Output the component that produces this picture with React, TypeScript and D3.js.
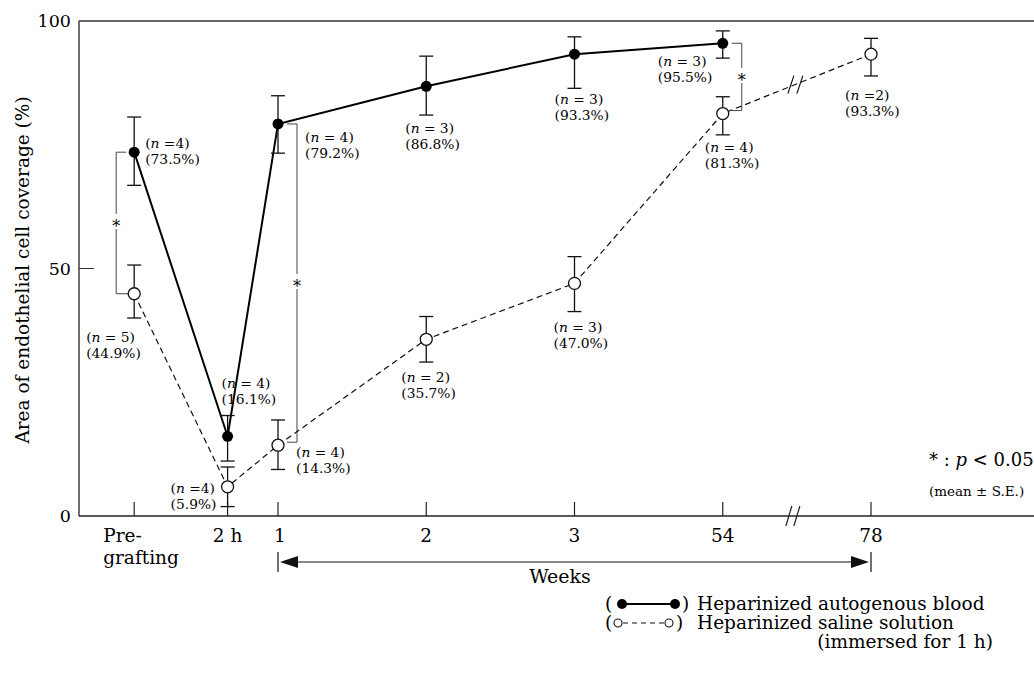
import React from "react";
import * as d3 from "d3";

// ---------- data ----------
const categories = ["Pre-grafting", "2 h", "1", "2", "3", "54", "78"];
const tickLabels = ["Pre-|grafting", "2 h", "1", "2", "3", "54", "78"];
// position slot along the (broken) time axis; weeks 1..78 are evenly spaced slots 0..4
const xSlot = [-0.97, -0.34, 0, 1, 2, 3, 4];

const bloodMean = [73.5, 16.1, 79.2, 86.8, 93.3, 95.5];
const bloodUpper = [80.6, 20.3, 84.9, 92.9, 96.8, 98.0];
const bloodLower = [66.8, 11.1, 73.3, 81.0, 86.4, 92.5];
const bloodN = [4, 4, 4, 3, 3, 3];
const bloodTight = [true, false, false, false, false, false];

const salineMean = [44.9, 5.9, 14.3, 35.7, 47.0, 81.3, 93.3];
const salineUpper = [50.7, 9.9, 19.4, 40.3, 52.4, 84.7, 96.5];
const salineLower = [40.0, 1.9, 9.4, 31.1, 41.3, 77.0, 88.9];
const salineN = [5, 4, 4, 2, 3, 4, 2];
const salineTight = [false, true, false, false, false, false, true];

const yTicks = [0, 50, 100];
// significance comparisons (category index)
const sigIdx = [0, 2, 5];

// ---------- layout (styles / offsets) ----------
const W = 1034, H = 685;
const FONT = "'DejaVu Serif', 'Liberation Serif', serif";
const bloodLabelOff = [[11, -4], [-6, -48], [27, 18], [-21, 47], [-20, 50], [-65, 23]];
const salineLabelOff = [[-48, 48], [-57, 6], [18, 12], [-25, 43], [-21, 49], [-18, 38], [-26, 46]];
const sigOff = [-18, 19, 19];

const x = d3.scaleLinear().domain([0, 4]).range([278, 871]);
const y = d3.scaleLinear().domain([0, 100]).range([516, 21]);
const X0 = 79;

function PointLabel({ px, py, n, mean, tight, off }: any) {
  const tx = px + off[0];
  const ty = py + off[1];
  return (
    <text x={tx} y={ty} fontSize={13.8} fontFamily={FONT}>
      <tspan>(</tspan>
      <tspan fontStyle="italic">n</tspan>
      <tspan>{tight ? " =" + n + ")" : " = " + n + ")"}</tspan>
      <tspan x={tx} dy={16}>{"(" + mean.toFixed(1) + "%)"}</tspan>
    </text>
  );
}

function ErrorBar({ px, hi, lo }: any) {
  const c = 7;
  return (
    <g stroke="#111" strokeWidth={1.3}>
      <line x1={px} x2={px} y1={y(hi)} y2={y(lo)} />
      <line x1={px - c} x2={px + c} y1={y(hi)} y2={y(hi)} />
      <line x1={px - c} x2={px + c} y1={y(lo)} y2={y(lo)} />
    </g>
  );
}

export default function App() {
  const bloodPts = bloodMean.map((v, i) => [x(xSlot[i]), y(v)] as [number, number]);
  const salinePts = salineMean.map((v, i) => [x(xSlot[i]), y(v)] as [number, number]);
  const line = d3.line();

  // break on the saline line between 54 and 78
  const bx = (salinePts[5][0] + salinePts[6][0]) / 2 - 2;
  const bt = (bx - salinePts[5][0]) / (salinePts[6][0] - salinePts[5][0]);
  const by = salinePts[5][1] + bt * (salinePts[6][1] - salinePts[5][1]);
  // break on axis
  const axBx = bx - 2;

  const arrowY = 562;
  const ax1 = x(0), ax2 = x(4);

  return (
    <svg width={W} height={H} style={{ position: "absolute", left: 0, top: 0, background: "#fff" }}>
      <rect width={W} height={H} fill="#fff" />
      {/* frame: left axis, top line, bottom axis */}
      <line x1={X0} x2={X0} y1={y(100)} y2={y(0)} stroke="#222" strokeWidth={1.3} />
      <line x1={X0} x2={W} y1={y(100)} y2={y(100)} stroke="#333" strokeWidth={1.6} />
      <line x1={X0} x2={W} y1={y(0)} y2={y(0)} stroke="#222" strokeWidth={1.6} />
      {/* y ticks */}
      {yTicks.map((t) => (
        <g key={t}>
          {t === 50 && <line x1={X0} x2={X0 + 15} y1={y(t)} y2={y(t)} stroke="#333" strokeWidth={1} />}
          <text x={71} y={y(t) + 6} textAnchor="end" fontSize={17.5} fontFamily={FONT}>{t}</text>
        </g>
      ))}
      {/* x ticks */}
      {categories.map((c, i) => (
        <line key={c} x1={x(xSlot[i])} x2={x(xSlot[i])} y1={y(0)} y2={y(0) - 14} stroke="#222" strokeWidth={1.2} />
      ))}
      {tickLabels.map((lab, i) => {
        const px = x(xSlot[i]);
        if (lab.includes("|")) {
          const [a, b] = lab.split("|");
          return (
            <text key={lab} x={px - 31} y={542} fontSize={18.5} fontFamily={FONT}>
              <tspan>{a}</tspan>
              <tspan x={px - 31} dy={22}>{b}</tspan>
            </text>
          );
        }
        return (
          <text key={lab} x={px + (i === 2 ? 2 : 0)} y={542} textAnchor="middle" fontSize={18.5} fontFamily={FONT}>{lab}</text>
        );
      })}
      {/* axis break */}
      <g stroke="#222" strokeWidth={1.2}>
        <line x1={axBx - 7} x2={axBx - 1} y1={y(0) + 10} y2={y(0) - 10} />
        <line x1={axBx + 1} x2={axBx + 7} y1={y(0) + 10} y2={y(0) - 10} />
      </g>

      {/* y label */}
      <text transform={`translate(29,${270}) rotate(-90)`} textAnchor="middle" fontSize={18.5} fontFamily={FONT}>
        Area of endothelial cell coverage (%)
      </text>

      {/* weeks arrow */}
      <g stroke="#111" strokeWidth={1.2}>
        <line x1={ax1} x2={ax1} y1={arrowY - 10} y2={arrowY + 10} />
        <line x1={ax2} x2={ax2} y1={arrowY - 10} y2={arrowY + 10} />
        <line x1={ax1 + 10} x2={ax2 - 10} y1={arrowY} y2={arrowY} />
      </g>
      <path d={`M${ax1 + 2},${arrowY} L${ax1 + 20},${arrowY - 6} L${ax1 + 20},${arrowY + 6} Z`} fill="#111" />
      <path d={`M${ax2 - 2},${arrowY} L${ax2 - 20},${arrowY - 6} L${ax2 - 20},${arrowY + 6} Z`} fill="#111" />
      <text x={560} y={583} textAnchor="middle" fontSize={19} fontFamily={FONT}>Weeks</text>

      {/* significance brackets */}
      {sigIdx.map((ci, k) => {
        const px = x(xSlot[ci]);
        const bxk = px + sigOff[k];
        const y1 = y(bloodMean[ci]);
        const y2 = y(salineMean[ci]) - (k === 0 ? 0 : 3);
        const inner = k === 0 ? px - 8 : px + 9;
        const ym = (y1 + y2) / 2;
        return (
          <g key={ci}>
            <g stroke="#444" strokeWidth={1}>
              <line x1={inner} x2={bxk} y1={y1} y2={y1} />
              <line x1={inner + (k === 0 ? 2 : 0)} x2={bxk} y1={y2} y2={y2} />
              <line x1={bxk} x2={bxk} y1={y1} y2={ym - 9} />
              <line x1={bxk} x2={bxk} y1={ym + 6} y2={y2} />
            </g>
            <text x={bxk} y={ym + 9} textAnchor="middle" fontSize={16} fontFamily={FONT}>*</text>
          </g>
        );
      })}

      {/* saline (dashed) */}
      <path d={line(salinePts) || ""} fill="none" stroke="#111" strokeWidth={1.2} strokeDasharray="6 4" />
      <g stroke="#111" strokeWidth={1.2}>
        <line x1={bx - 7} x2={bx - 1} y1={by + 9} y2={by - 9} />
        <line x1={bx + 2} x2={bx + 8} y1={by + 9} y2={by - 9} />
      </g>
      {/* blood (solid) */}
      <path d={line(bloodPts) || ""} fill="none" stroke="#000" strokeWidth={2} />

      {/* error bars */}
      {salineMean.map((v, i) => (
        <ErrorBar key={"se" + i} px={salinePts[i][0]} hi={salineUpper[i]} lo={salineLower[i]} />
      ))}
      {bloodMean.map((v, i) => (
        <ErrorBar key={"be" + i} px={bloodPts[i][0]} hi={bloodUpper[i]} lo={bloodLower[i]} />
      ))}

      {/* markers */}
      {salinePts.map((p, i) => (
        <circle key={"sc" + i} cx={p[0]} cy={p[1]} r={6} fill="#fff" stroke="#111" strokeWidth={1.3} />
      ))}
      {bloodPts.map((p, i) => (
        <circle key={"bc" + i} cx={p[0]} cy={p[1]} r={5.5} fill="#000" />
      ))}

      {/* point labels */}
      {bloodPts.map((p, i) => (
        <PointLabel key={"bl" + i} px={p[0]} py={p[1]} n={bloodN[i]} mean={bloodMean[i]} tight={bloodTight[i]} off={bloodLabelOff[i]} />
      ))}
      {salinePts.map((p, i) => (
        <PointLabel key={"sl" + i} px={p[0]} py={p[1]} n={salineN[i]} mean={salineMean[i]} tight={salineTight[i]} off={salineLabelOff[i]} />
      ))}

      {/* significance note */}
      <text x={929} y={466} fontSize={18} fontFamily={FONT}>
        <tspan>* : </tspan>
        <tspan fontStyle="italic">p</tspan>
        <tspan>{" < 0.05"}</tspan>
      </text>
      <text x={929} y={496} fontSize={13.5} fontFamily={FONT}>(mean ± S.E.)</text>

      {/* legend */}
      <g fontFamily={FONT} fontSize={18.5}>
        <text x={605} y={610}>(</text>
        <line x1={622} x2={675} y1={604} y2={604} stroke="#000" strokeWidth={2} />
        <circle cx={622} cy={604} r={5} fill="#000" />
        <circle cx={675} cy={604} r={5} fill="#000" />
        <text x={682} y={610}>)</text>
        <text x={697} y={610}>Heparinized autogenous blood</text>

        <text x={605} y={629}>(</text>
        <line x1={623} x2={664} y1={623} y2={623} stroke="#111" strokeWidth={1.2} strokeDasharray="5 4" />
        <circle cx={618} cy={623} r={4} fill="#fff" stroke="#111" strokeWidth={1.1} />
        <circle cx={669} cy={623} r={4} fill="#fff" stroke="#111" strokeWidth={1.1} />
        <text x={676} y={629}>)</text>
        <text x={697} y={629}>Heparinized saline solution</text>

        <text x={993} y={648} textAnchor="end">(immersed for 1 h)</text>
      </g>
    </svg>
  );
}
